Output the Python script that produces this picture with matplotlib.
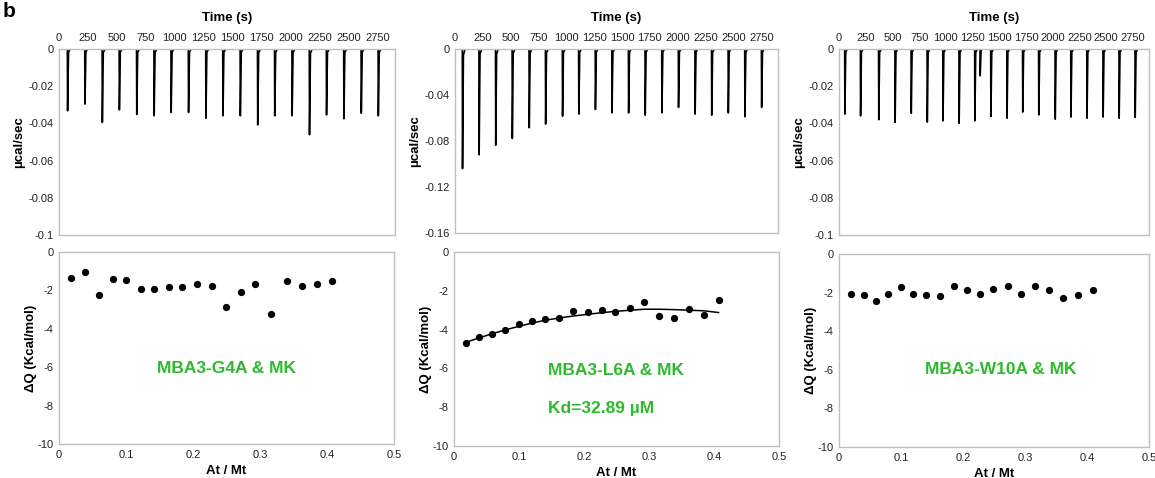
import numpy as np
import matplotlib.pyplot as plt
from matplotlib.ticker import FuncFormatter

plt.rcParams['font.family'] = ['Liberation Sans', 'DejaVu Sans']

verde = '#2DBA2D'
gris = '#BFBFBF'

# --- Termogramas (tiempos de inyeccion [s] y minimo de cada pico [ucal/s]) ---
t_g4a = [72, 222, 372, 519, 669, 819, 966, 1116, 1266, 1413, 1563, 1713, 1860, 2010, 2160, 2307, 2457, 2607, 2754]
p_g4a = [-0.0332, -0.0296, -0.0395, -0.0327, -0.0352, -0.0359, -0.0341, -0.0341, -0.0372, -0.0359,
         -0.0359, -0.0408, -0.0359, -0.0359, -0.0461, -0.0354, -0.0375, -0.0345, -0.0359]

t_l6a = [66, 215, 364, 513, 665, 812, 964, 1110, 1259, 1408, 1557, 1706, 1856, 2005, 2154, 2303, 2452, 2601, 2751]
p_l6a = [-0.104, -0.092, -0.0836, -0.0778, -0.0685, -0.0653, -0.0584, -0.0566, -0.0526, -0.0555,
         -0.0555, -0.0575, -0.0555, -0.0508, -0.0566, -0.0575, -0.0555, -0.0589, -0.0508]

t_w10a = [53, 200, 370, 523, 674, 824, 971, 1122, 1269, 1319, 1419, 1570, 1717, 1867, 2021, 2168, 2318, 2469, 2619, 2769]
p_w10a = [-0.035, -0.0359, -0.038, -0.0395, -0.0345, -0.0393, -0.0386, -0.0399, -0.0386, -0.0144, -0.0363,
          -0.0372, -0.0339, -0.0354, -0.0377, -0.0366, -0.0372, -0.0366, -0.0372, -0.0368]

# --- Isotermas (razon molar y calor por inyeccion [kcal/mol]) ---
r_g4a = [0.018, 0.039, 0.059, 0.081, 0.100, 0.122, 0.142, 0.164, 0.184, 0.206,
         0.228, 0.250, 0.271, 0.293, 0.317, 0.340, 0.363, 0.385, 0.408]
q_g4a = [-1.36, -1.06, -2.23, -1.41, -1.48, -1.93, -1.93, -1.81, -1.81, -1.69,
         -1.76, -2.87, -2.10, -1.69, -3.22, -1.53, -1.76, -1.69, -1.53]

r_l6a = [0.019, 0.039, 0.058, 0.078, 0.100, 0.120, 0.140, 0.162, 0.183, 0.206,
         0.227, 0.248, 0.271, 0.293, 0.316, 0.338, 0.362, 0.384, 0.407]
q_l6a = [-4.71, -4.36, -4.21, -4.02, -3.69, -3.57, -3.47, -3.40, -3.05, -3.10,
         -3.00, -3.10, -2.88, -2.60, -3.29, -3.40, -2.93, -3.24, -2.48]
ajuste_l6a = [-4.65, -4.42, -4.22, -4.02, -3.83, -3.66, -3.52, -3.40, -3.30, -3.21,
              -3.13, -3.06, -3.00, -2.95, -2.95, -2.97, -3.00, -3.03, -3.12]

r_w10a = [0.019, 0.040, 0.059, 0.079, 0.100, 0.120, 0.141, 0.163, 0.185, 0.206,
          0.228, 0.249, 0.272, 0.294, 0.316, 0.338, 0.362, 0.386, 0.409]
q_w10a = [-2.10, -2.15, -2.44, -2.08, -1.73, -2.08, -2.13, -2.20, -1.68, -1.87,
          -2.10, -1.80, -1.68, -2.10, -1.68, -1.87, -2.29, -2.15, -1.87]

time_ticks = np.arange(0, 2751, 250)


def termograma(tt, pp, t_fin=2900):
    # cada pico: baja casi vertical y vuelve rapido a la linea de base
    xs, ys = [0], [0]
    for t, p in zip(tt, pp):
        xs += [t, t + 2, t + 10, t + 25]
        ys += [0, p, p * 0.05, 0]
    xs.append(t_fin)
    ys.append(0)
    return xs, ys


def estilo(ax):
    for s in ax.spines.values():
        s.set_color(gris)
        s.set_linewidth(1)
    ax.tick_params(length=0, labelsize=8, colors='#222222', pad=4)
    ax.yaxis.set_major_formatter(FuncFormatter(lambda v, _: '{:g}'.format(round(v, 4))))
    ax.xaxis.set_major_formatter(FuncFormatter(lambda v, _: '{:g}'.format(round(v, 4))))


fig = plt.figure(figsize=(11.55, 4.78), dpi=100)

pos_top = [[0.0511, 0.5084, 0.2909, 0.3891],
           [0.3939, 0.5126, 0.2797, 0.3849],
           [0.7264, 0.5084, 0.2684, 0.3891]]
pos_bot = [[0.0511, 0.0711, 0.2900, 0.4017],
           [0.3931, 0.0669, 0.2814, 0.4059],
           [0.7264, 0.0649, 0.2684, 0.4038]]

termos = [(t_g4a, p_g4a, -0.1, 0.02), (t_l6a, p_l6a, -0.16, 0.04), (t_w10a, p_w10a, -0.1, 0.02)]
for pos, (tt, pp, ymin, paso) in zip(pos_top, termos):
    ax = fig.add_axes(pos)
    xs, ys = termograma(tt, pp)
    ax.plot(xs, ys, color='black', lw=1.2)
    ax.set_xlim(0, 2900)
    ax.set_ylim(ymin, 0)
    ax.set_xticks(time_ticks)
    ax.set_yticks(np.arange(0, ymin - paso / 2, -paso))
    ax.xaxis.tick_top()
    ax.xaxis.set_label_position('top')
    estilo(ax)
    ax.set_xlabel('Time (s)', fontsize=9.5, fontweight='bold', labelpad=9)
    ax.set_ylabel('µcal/sec', fontsize=9.5, fontweight='bold', labelpad=2)

isos = [(r_g4a, q_g4a), (r_l6a, q_l6a), (r_w10a, q_w10a)]
axs_b = []
for pos, (rr, qq) in zip(pos_bot, isos):
    ax = fig.add_axes(pos)
    ax.plot(rr, qq, 'o', color='black', ms=4.2)
    ax.set_xlim(0, 0.5)
    ax.set_ylim(-10, 0)
    ax.set_xticks(np.arange(0, 0.51, 0.1))
    ax.set_yticks(np.arange(0, -10.1, -2))
    estilo(ax)
    ax.set_xlabel('At / Mt', fontsize=9.5, fontweight='bold', labelpad=4)
    ax.set_ylabel('ΔQ (Kcal/mol)', fontsize=9.5, fontweight='bold', labelpad=0)
    axs_b.append(ax)

# curva de ajuste L6A
axs_b[1].plot(r_l6a, ajuste_l6a, color='black', lw=1.1)

axs_b[0].text(0.25, -6.05, 'MBA3-G4A & MK', color=verde, fontsize=12.5,
              fontweight='bold', ha='center', va='center')
axs_b[1].text(0.1446, -6.09, 'MBA3-L6A & MK', color=verde, fontsize=12.5,
              fontweight='bold', ha='left', va='center')
axs_b[1].text(0.1446, -8.07, 'Kd=32.89 µM', color=verde, fontsize=12.5,
              fontweight='bold', ha='left', va='center')
axs_b[2].text(0.139, -5.98, 'MBA3-W10A & MK', color=verde, fontsize=12.5,
              fontweight='bold', ha='left', va='center')

fig.text(0.002, 0.995, 'b', fontsize=15, fontweight='bold', ha='left', va='top')

fig.savefig('out.png', dpi=100)
